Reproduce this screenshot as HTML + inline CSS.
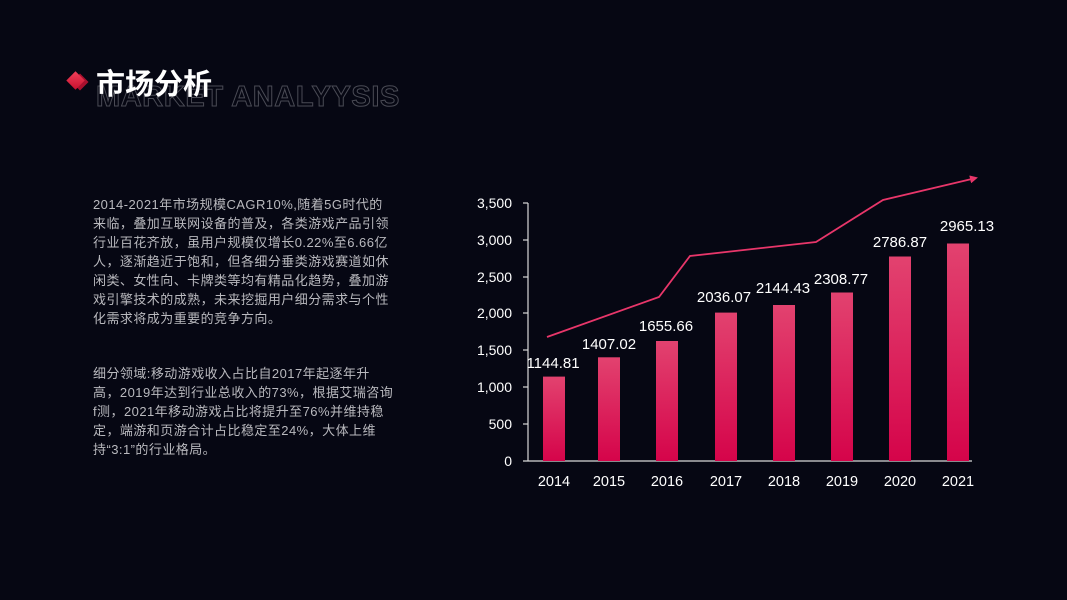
<!DOCTYPE html>
<html><head><meta charset="utf-8"><style>
html,body{margin:0;padding:0;}
body{width:1067px;height:600px;background:#060713;position:relative;overflow:hidden;font-family:"Liberation Sans","Noto Sans CJK SC",sans-serif;}
.t{position:absolute;left:93px;color:#b9b9be;font-size:13px;line-height:19px;white-space:nowrap;letter-spacing:0.45px;}
</style></head><body>
<div style="position:absolute;left:96px;top:82px;font-size:29px;font-weight:bold;letter-spacing:0.6px;color:transparent;-webkit-text-stroke:1px #4a4b55;line-height:30px;white-space:nowrap;">MARKET ANALYYSIS</div>
<div style="position:absolute;left:74px;top:76px;width:12px;height:12px;background:#a8102e;transform:rotate(45deg);"></div>
<div style="position:absolute;left:69px;top:74px;width:13px;height:13px;background:linear-gradient(135deg,#f0405a,#c8102e);transform:rotate(45deg);"></div>
<div style="position:absolute;left:96px;top:64px;font-size:29px;color:#fff;line-height:36px;font-weight:bold;font-family:'Noto Sans CJK SC',sans-serif;">市场分析</div>
<div class="t" style="top:195px;">2014-2021年市场规模CAGR10%,随着5G时代的<br>来临，叠加互联网设备的普及，各类游戏产品引领<br>行业百花齐放，虽用户规模仅增长0.22%至6.66亿<br>人，逐渐趋近于饱和，但各细分垂类游戏赛道如休<br>闲类、女性向、卡牌类等均有精品化趋势，叠加游<br>戏引擎技术的成熟，未来挖掘用户细分需求与个性<br>化需求将成为重要的竞争方向。</div>
<div class="t" style="top:364px;">细分领域:移动游戏收入占比自2017年起逐年升<br>高，2019年达到行业总收入的73%，根据艾瑞咨询<br>f测，2021年移动游戏占比将提升至76%并维持稳<br>定，端游和页游合计占比稳定至24%，大体上维<br>持“3:1”的行业格局。</div>
<svg width="1067" height="600" style="position:absolute;left:0;top:0" font-family="Liberation Sans,sans-serif">
<defs><linearGradient id="g" x1="0" y1="0" x2="0" y2="1"><stop offset="0" stop-color="#e2426f"/><stop offset="1" stop-color="#d5044a"/></linearGradient>
<marker id="a" markerWidth="8" markerHeight="8" refX="6" refY="4" orient="auto" markerUnits="userSpaceOnUse"><path d="M0,0 L8,4 L0,8 Z" fill="#e8366a"/></marker></defs>
<g stroke="#d8d8d8" stroke-width="1.2">
<line x1="528" y1="203" x2="528" y2="461"/><line x1="523" y1="461" x2="972" y2="461"/>
<line x1="523" y1="203" x2="528" y2="203"/><line x1="523" y1="240" x2="528" y2="240"/><line x1="523" y1="277" x2="528" y2="277"/><line x1="523" y1="313" x2="528" y2="313"/><line x1="523" y1="350" x2="528" y2="350"/><line x1="523" y1="387" x2="528" y2="387"/><line x1="523" y1="424" x2="528" y2="424"/>
</g>
<g fill="#fff" font-size="14" text-anchor="end">
<text x="512" y="208">3,500</text><text x="512" y="245">3,000</text><text x="512" y="282">2,500</text><text x="512" y="318">2,000</text><text x="512" y="355">1,500</text><text x="512" y="392">1,000</text><text x="512" y="429">500</text><text x="512" y="466">0</text>
</g>
<g fill="url(#g)">
<rect x="543" y="376.6" width="22" height="84.4"/>
<rect x="598" y="357.3" width="22" height="103.7"/>
<rect x="656" y="341" width="22" height="120"/>
<rect x="715" y="312.6" width="22" height="148.4"/>
<rect x="773" y="305" width="22" height="156"/>
<rect x="831" y="292.5" width="22" height="168.5"/>
<rect x="889" y="256.5" width="22" height="204.5"/>
<rect x="947" y="243.5" width="22" height="217.5"/>
</g>
<g fill="#fff" font-size="14.5" text-anchor="middle">
<text x="554" y="486">2014</text><text x="609" y="486">2015</text><text x="667" y="486">2016</text><text x="726" y="486">2017</text><text x="784" y="486">2018</text><text x="842" y="486">2019</text><text x="900" y="486">2020</text><text x="958" y="486">2021</text>
</g>
<g fill="#fff" font-size="15" text-anchor="middle">
<text x="553" y="368">1144.81</text><text x="609" y="349">1407.02</text><text x="666" y="331">1655.66</text><text x="724" y="302">2036.07</text><text x="783" y="293">2144.43</text><text x="841" y="284">2308.77</text><text x="900" y="247">2786.87</text><text x="967" y="231">2965.13</text>
</g>
<polyline points="547,337 659,297 690,256 816,242 883,200 976,178" fill="none" stroke="#e8366a" stroke-width="1.8" marker-end="url(#a)"/>
</svg>
</body></html>
